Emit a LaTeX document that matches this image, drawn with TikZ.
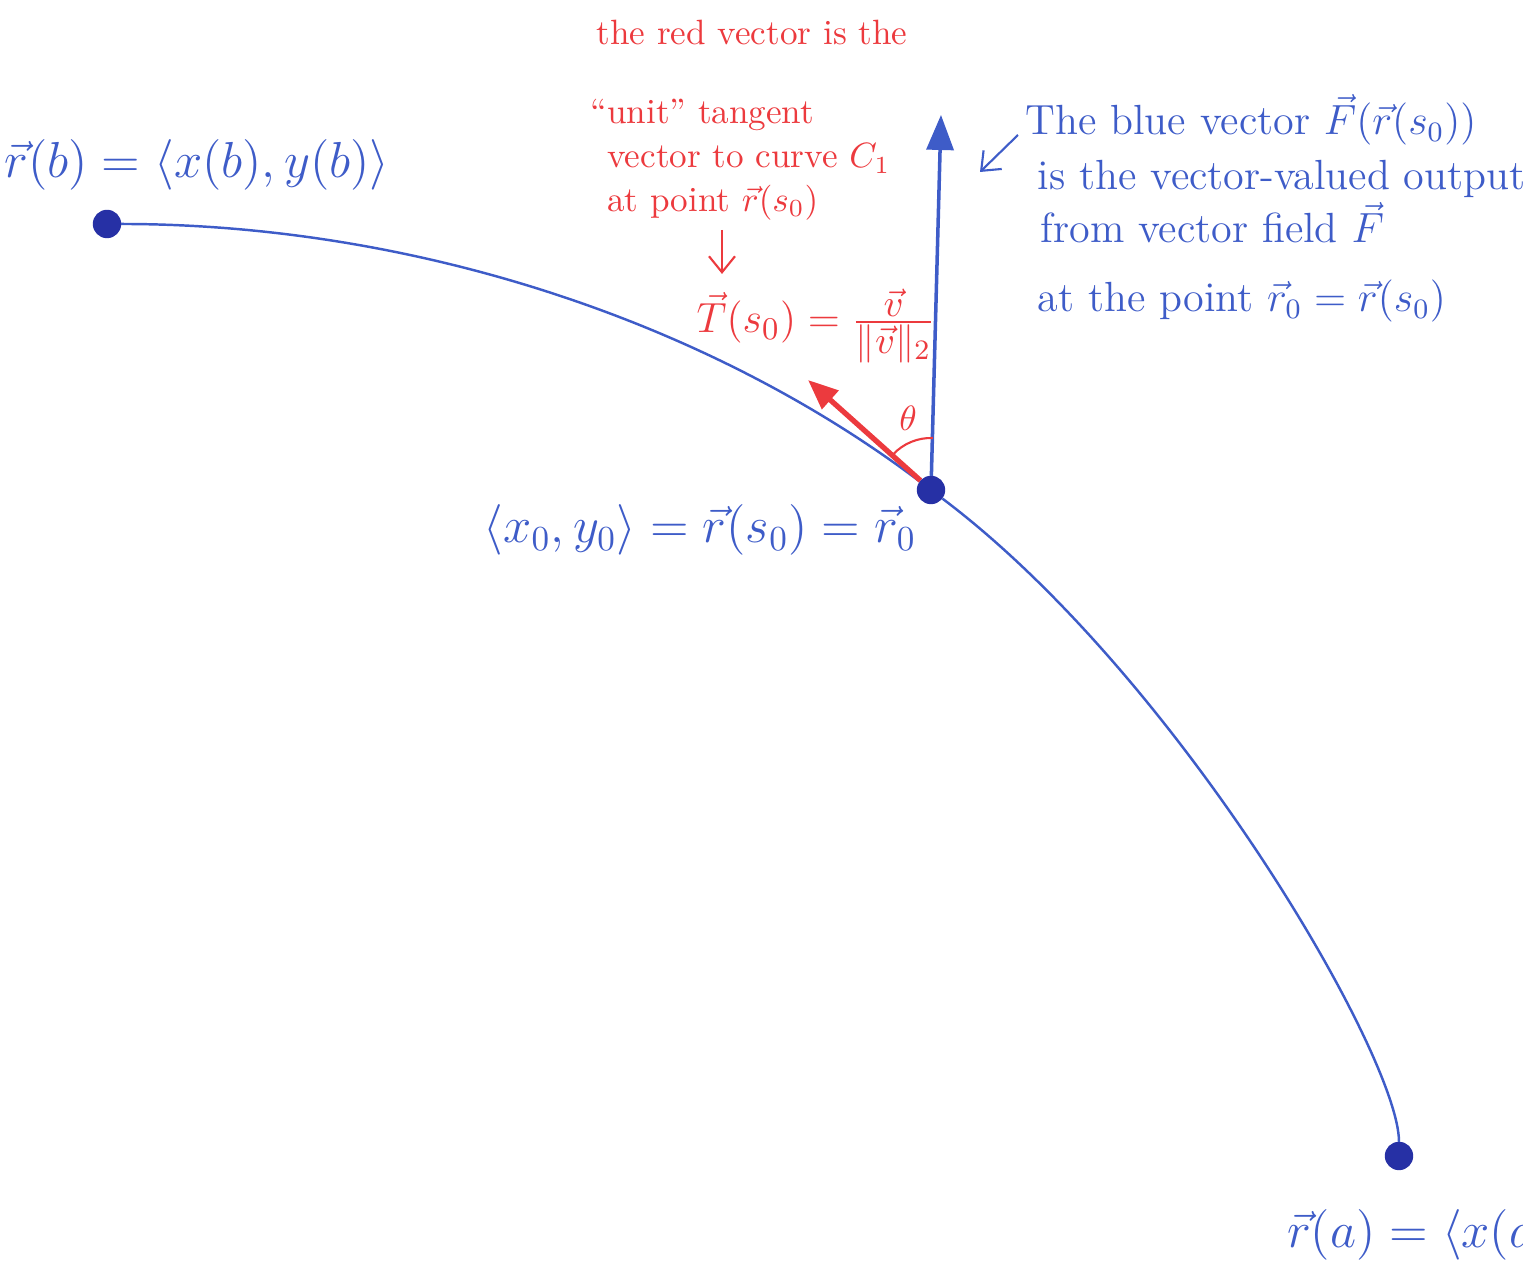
\documentclass[tikz,border=0pt]{standalone}
\usepackage{tikz}
\usepackage{xcolor}
\usepackage{amsmath}
\usetikzlibrary{arrows.meta, positioning, calc}
\definecolor{inkBlue}{RGB}{62,92,200}
\definecolor{dotBlue}{RGB}{38,48,165}
\definecolor{inkRed}{RGB}{236,58,62}
\newcommand{\fracpart}[1]{\hbox{\fontsize{11}{11}\selectfont$#1$}}
\tikzset{
    dotnode/.style={
        circle,
        fill=dotBlue,
        draw=dotBlue,
        inner sep=0pt,
        minimum size=0.27cm
    },
    bluetext/.style={
        text=inkBlue,
        inner sep=0pt,
        font=\fontsize{12}{15}\selectfont
    },
    bluelabel/.style={
        text=inkBlue,
        inner sep=1pt,
        font=\fontsize{14}{17}\selectfont
    },
    redtext/.style={
        text=inkRed,
        inner sep=1pt,
        font=\fontsize{10}{12.5}\selectfont
    },
    curveline/.style={draw=inkBlue, line width=0.7pt},
    fieldarrow/.style={-{Triangle[length=3.5mm, width=2.7mm]}, draw=inkBlue, line width=1pt},
    tangentarrow/.style={-{Triangle[length=3mm, width=2.4mm]}, draw=inkRed, line width=1.5pt},
    redpointer/.style={-{Straight Barb[length=1.6mm, width=2.6mm]}, draw=inkRed, line width=0.6pt},
    bluepointer/.style={-{Straight Barb[length=1.6mm, width=2.6mm]}, draw=inkBlue, line width=0.6pt},
    thetaarc/.style={draw=inkRed, line width=0.6pt}
}

\begin{document}
\begin{tikzpicture}[x=1cm,y=1cm]
    \useasboundingbox (0,0) rectangle (15.23,12.62);
        \node[dotnode] (rb) at (1.07,10.38) {};
        \node[dotnode] (r0) at (9.31,7.72) {};
        \node[dotnode] (ra) at (13.99,1.06) {};
        \coordinate (Ftip) at (9.41,11.47);
        \coordinate (Ttip) at (8.08,8.82);

        \draw[curveline] (rb) to[out=0, in=143, looseness=0.85] (r0);
        \draw[curveline] (r0) .. controls +(-37:3.10) and +(90:1.0) .. (ra);
        \draw[fieldarrow] (r0) -- (Ftip);
        \draw[tangentarrow] (r0) -- (Ttip);
        \draw[thetaarc] ([shift=(88:0.52)]r0.center) arc[start angle=88, end angle=137, radius=0.52];
        \node[redtext] (theta) at (9.08,8.44) {$\theta$};

        \node[redtext] (redtitle) at (7.52,12.29) {the red vector is the};
        \node[redtext, align=left, anchor=west] (unittext) at (6.03,11.02) {\llap{``}unit'' tangent\\vector to curve $C_1$\\at point $\vec{r}(s_0)$};
        \node[redtext, font=\fontsize{13}{15}\selectfont] (Tform) at (8.16,9.36) {$\vec{T}(s_0) = \frac{\fracpart{\vec{v}}}{\fracpart{\|\vec{v}\|_2}}$};
        \coordinate (tpointer) at (7.22,10.32);
        \draw[redpointer, shorten >=3pt] (tpointer) -- (tpointer |- Tform.north);

        \node[bluetext, anchor=base west] (fline1) at (10.25,11.27) {The blue vector $\vec{F}(\vec{r}(s_0))$};
        \node[bluetext, anchor=base west] (fline2) at (10.37,10.72) {is the vector-valued output};
        \node[bluetext, anchor=base west] (fline3) at (10.40,10.19) {from vector field $\vec{F}$};
        \node[bluetext, anchor=base west] (fline4) at (10.37,9.50) {at the point $\vec{r}_0 = \vec{r}(s_0)$};
        \coordinate (fpointer) at (9.80,10.90);
        \draw[bluepointer] ([xshift=-2pt]fline1.base west) -- (fpointer);

        \node[bluelabel] (rblabel) at (1.97,10.97) {$\vec{r}(b) = \langle x(b), y(b)\rangle$};
        \node[bluelabel] (r0label) at (7.00,7.32) {$\langle x_0, y_0\rangle = \vec{r}(s_0) = \vec{r}_0$};
        \node[bluelabel, anchor=west] (ralabel) at (12.83,0.27) {$\vec{r}(a) = \langle x(a), y(a)\rangle$};
    \end{tikzpicture}
\end{document}
